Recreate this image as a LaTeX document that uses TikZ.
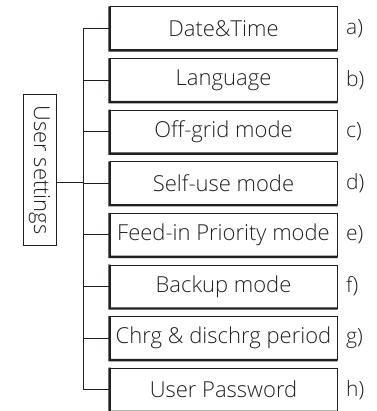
\documentclass[tikz,border=0pt]{standalone}
\usepackage{fontspec}
\IfFontExistsTF{Open Sans Light}{\setmainfont{Open Sans Light}}{\setmainfont{Open Sans}}
\definecolor{ink}{HTML}{231F20}
\begin{document}
\begin{tikzpicture}[x=1pt,y=-1pt,
  menubox/.style={draw=ink,line width=1pt,minimum width=227pt,minimum height=43pt,inner sep=0pt,
    font=\fontsize{22}{24}\selectfont,text=ink},
  lbl/.style={anchor=west,font=\fontsize{21}{24}\selectfont,text=ink,inner sep=0pt},
  conn/.style={draw=ink,line width=1pt}]
\useasboundingbox (0,0) rectangle (376,411);
\foreach \i/\t/\l [count=\n from 0] in {1/Date\&Time/a),2/Language/b),3/Off-grid mode/c),4/Self-use mode/d),5/Feed-in Priority mode/e),6/Backup mode/f),7/Chrg \& dischrg period/g),8/User Password/h)}{
  \node[menubox] (b\i) at (223.5,{28.5+51.6*\n}) {\t};
  \draw[ink,line width=2.4pt] ([xshift=0.1pt]b\i.north west) -- (b\i.south west) -- (b\i.south east);
  \node[lbl] (l\i) at (346,{28.5+51.6*\n}) {\l};
}
\node[draw=ink,line width=1pt,minimum width=150pt,minimum height=33pt,inner sep=0pt,rotate=-90,
  font=\fontsize{22}{24}\selectfont,text=ink] (us) at (39.5,170) {User settings};
\coordinate (usc) at ([yshift=-13pt]us.north);
\coordinate (T) at (83,0);
\draw[conn] (usc) -- (usc -| T);
\draw[conn] (b1.west -| T) -- (b8.west -| T);
\foreach \i in {1,...,8}{\draw[conn] (b\i.west -| T) -- (b\i.west);}
\end{tikzpicture}
\end{document}
